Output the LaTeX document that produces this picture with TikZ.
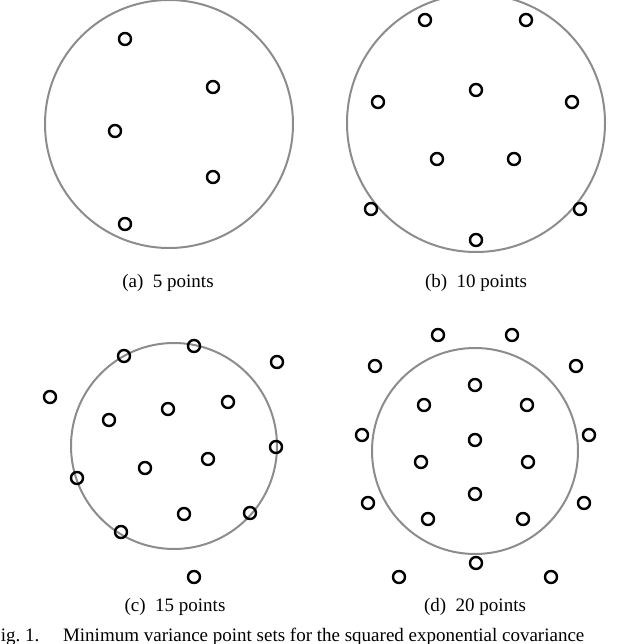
\documentclass[tikz,border=0pt]{standalone}
\usepackage{fontspec}
\setmainfont{Liberation Serif}
\begin{document}
\begin{tikzpicture}[x=1pt,y=-1pt,
  region/.style={draw=black!45,line width=2pt},
  pt/.style={circle,draw=black,line width=2.4pt,minimum size=12pt,inner sep=0pt},
  captext/.style={font=\fontsize{19}{22}\selectfont,inner sep=0pt}]
\path[use as bounding box] (0,0) rectangle (640,644);
\clip (0,0) rectangle (640,644);
\draw[region] (169,124) circle (124);
\draw[region] (476,123) circle (129);
\draw[region] (174,446) circle (103);
\draw[region] (475,451) circle (103);
\foreach \x/\y [count=\i] in {125/39,213/87,115/131,213/177,125/224}
  \node[pt] (a\i) at (\x,\y) {};
\foreach \x/\y [count=\i] in {425/20,526/20,378/102,476/90,572/102,437/159,514/159,371/209,580/209,476/240}
  \node[pt] (b\i) at (\x,\y) {};
\foreach \x/\y [count=\i] in {124/356,194/346,277/362,50/397,109/420,168/409,228/402,276/447,145/468,208/459,77/478,184/514,250/513,121/532,194/577}
  \node[pt] (c\i) at (\x,\y) {};
\foreach \x/\y [count=\i] in {438/335,512/335,375/366,576/366,475/385,424/405,527/405,362/435,589/435,475/440,421/462,528/462,475/494,368/503,584/503,428/519,523/519,476/563,399/577,551/577}
  \node[pt] (d\i) at (\x,\y) {};
\node[captext] (ca) at (168,283) {(a)\ \ 5 points};
\node[captext] (cb) at (476,283) {(b)\ \ 10 points};
\node[captext] (cc) at (175,607) {(c)\ \ 15 points};
\node[captext] (cd) at (475,607) {(d)\ \ 20 points};
\node[captext,anchor=west] (fig) at (-10,637) {Fig.\ 1.\quad\ Minimum variance point sets for the squared exponential covariance};
\end{tikzpicture}
\end{document}
